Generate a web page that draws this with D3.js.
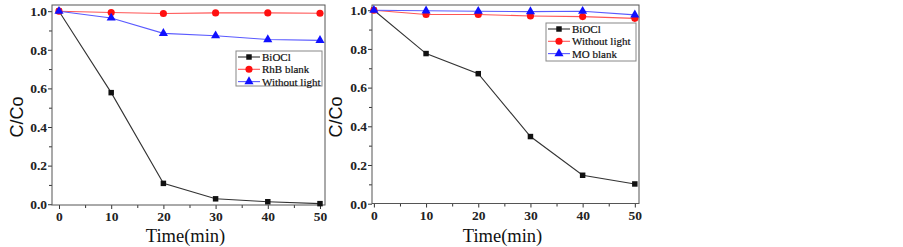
<!DOCTYPE html>
<html>
<head>
<meta charset="utf-8">
<script src="https://cdn.jsdelivr.net/npm/d3@7"></script>
<style>
  body { margin: 0; background: #fff; }
  svg { display: block; }
</style>
</head>
<body>
<svg id="chart" width="903" height="247"></svg>
<script>
// time points (min)
var times = [0, 10, 20, 30, 40, 50];

// left panel (RhB)
var rhbBiOCl = [1.0, 0.578, 0.108, 0.028, 0.013, 0.003];
var rhbBlank = [1.0, 0.993, 0.988, 0.991, 0.991, 0.989];
var rhbDark = [1.0, 0.965, 0.885, 0.873, 0.853, 0.849];

// right panel (MO)
var moBiOCl = [1.0, 0.776, 0.672, 0.347, 0.147, 0.102];
var moDark = [1.0, 0.978, 0.978, 0.970, 0.967, 0.958];
var moBlank = [1.0, 0.997, 0.995, 0.993, 0.995, 0.976];

var xTicks = [0, 10, 20, 30, 40, 50];
var yTicks = [0.0, 0.2, 0.4, 0.6, 0.8, 1.0];

var serif = "'Liberation Serif', 'Times New Roman', serif";
var sans = "'Liberation Sans', Arial, sans-serif";

var svg = d3.select("#chart");

function symbolPath(kind) {
  if (kind == "square") return d3.symbol().type(d3.symbolSquare).size(30)();
  if (kind == "circle") return d3.symbol().type(d3.symbolCircle).size(40)();
  return d3.symbol().type(d3.symbolTriangle).size(36)();
}

function drawPanel(p) {
  var g = svg.append("g");
  var x = d3.scaleLinear().domain(p.xDomain).range([p.left, p.right]);
  var y = d3.scaleLinear().domain(p.yDomain).range([p.bottom, p.top]);

  // axes
  var xAxis = d3.axisBottom(x).tickValues(xTicks).tickSize(4).tickFormat(d3.format("d"));
  var xMinor = d3.axisBottom(x).tickValues([5, 15, 25, 35, 45]).tickSize(3).tickFormat("");
  var yAxis = d3.axisLeft(y).tickValues(yTicks).tickSize(4).tickFormat(d3.format(".1f"));
  var yMinor = d3.axisLeft(y).tickValues([0.1, 0.3, 0.5, 0.7, 0.9]).tickSize(3).tickFormat("");

  function styleAxis(sel) {
    sel.select(".domain").remove();
    sel.selectAll("line").attr("stroke", "#333");
    sel.selectAll("text")
      .attr("font-family", serif)
      .attr("font-size", "13.5px")
      .attr("font-weight", "bold")
      .attr("fill", "#222");
  }

  g.append("g").attr("transform", "translate(0," + p.bottom + ")").call(xAxis).call(styleAxis)
    .selectAll("text").attr("y", 5).attr("dy", "0.85em");
  g.append("g").attr("transform", "translate(0," + p.bottom + ")").call(xMinor).call(styleAxis);
  g.append("g").attr("transform", "translate(" + p.left + ",0)").call(yAxis).call(styleAxis)
    .selectAll("text").attr("x", -5);
  g.append("g").attr("transform", "translate(" + p.left + ",0)").call(yMinor).call(styleAxis);

  // frame
  g.append("rect")
    .attr("x", p.left).attr("y", p.top)
    .attr("width", p.right - p.left).attr("height", p.bottom - p.top)
    .attr("fill", "none").attr("stroke", "#555").attr("stroke-width", 1);

  var line = d3.line()
    .x(function (d) { return x(d[0]); })
    .y(function (d) { return y(d[1]); });

  p.series.forEach(function (s) {
    var pts = times.map(function (t, i) { return [t, s.values[i]]; });
    g.append("path")
      .datum(pts)
      .attr("d", line)
      .attr("fill", "none")
      .attr("stroke", s.line)
      .attr("stroke-width", 1.1);
  });
  p.series.forEach(function (s) {
    var pts = times.map(function (t, i) { return [t, s.values[i]]; });
    g.selectAll(null)
      .data(pts)
      .enter()
      .append("path")
      .attr("d", symbolPath(s.shape))
      .attr("transform", function (d) {
        return "translate(" + x(d[0]) + "," + y(d[1]) + ")";
      })
      .attr("fill", s.mark);
  });

  // legend
  var lg = g.append("g");
  lg.append("rect")
    .attr("x", p.legend.x).attr("y", p.legend.y)
    .attr("width", p.legend.w).attr("height", p.legend.h)
    .attr("fill", "#fff").attr("stroke", "#888");
  p.series.forEach(function (s, i) {
    var yy = p.legend.y + 6 + i * 12.3;
    var lx = p.legend.x + 2;
    lg.append("line")
      .attr("x1", lx).attr("x2", lx + 22)
      .attr("y1", yy).attr("y2", yy)
      .attr("stroke", s.line).attr("stroke-width", 1.1);
    lg.append("path")
      .attr("d", symbolPath(s.shape))
      .attr("transform", "translate(" + (lx + 11) + "," + yy + ")")
      .attr("fill", s.mark);
    lg.append("text")
      .attr("x", lx + 24).attr("y", yy + 4)
      .attr("font-family", serif)
      .attr("font-size", "11px")
      .attr("fill", "#111")
      .attr("stroke", "#111")
      .attr("stroke-width", 0.2)
      .text(s.name);
  });

  // axis titles
  g.append("text")
    .attr("x", (p.left + p.right) / 2 - 3)
    .attr("y", 242)
    .attr("text-anchor", "middle")
    .attr("font-family", serif)
    .attr("font-size", "18.5px")
    .attr("fill", "#111")
    .text("Time(min)");
  g.append("text")
    .attr("transform", "translate(" + p.ylabelX + ",117) rotate(-90)")
    .attr("text-anchor", "middle")
    .attr("font-family", sans)
    .attr("font-size", "18px")
    .attr("fill", "#111")
    .text("C/Co");
}

drawPanel({
  left: 52, right: 325, top: 5, bottom: 205,
  xDomain: [-1.34, 50.96], yDomain: [-0.004, 1.032],
  ylabelX: 23,
  legend: { x: 236, y: 51, w: 86, h: 35 },
  series: [
    { name: "BiOCl", values: rhbBiOCl, line: "#333", mark: "#111", shape: "square" },
    { name: "RhB blank", values: rhbBlank, line: "#ff5555", mark: "#ff1010", shape: "circle" },
    { name: "Without light", values: rhbDark, line: "#5a5aff", mark: "#1010ff", shape: "triangle" }
  ]
});

drawPanel({
  left: 372, right: 639, top: 5, bottom: 203.5,
  xDomain: [-0.36, 50.8], yDomain: [0.001, 1.027],
  ylabelX: 342,
  legend: { x: 546, y: 23, w: 90, h: 38 },
  series: [
    { name: "BiOCl", values: moBiOCl, line: "#333", mark: "#111", shape: "square" },
    { name: "Without light", values: moDark, line: "#ff5555", mark: "#ff1010", shape: "circle" },
    { name: "MO blank", values: moBlank, line: "#5a5aff", mark: "#1010ff", shape: "triangle" }
  ]
});
</script>
</body>
</html>
